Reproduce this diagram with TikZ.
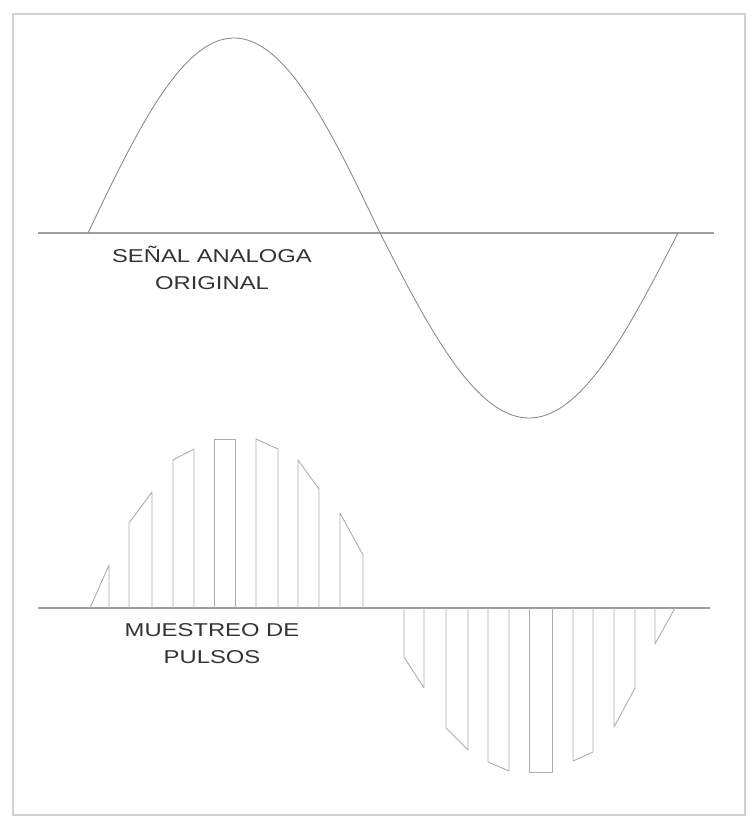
\documentclass[tikz,border=0pt]{standalone}
\usepackage{fontspec}
\newfontfamily\lblfont[FakeStretch=1.28]{Liberation Sans}
\usetikzlibrary{positioning}
\definecolor{figframe}{gray}{0.82}
\definecolor{figaxis}{gray}{0.62}
\definecolor{figwave}{gray}{0.55}
\definecolor{figpulse}{gray}{0.68}
\tikzset{
  fig/.style={x=0.5pt,y=-0.5pt},
  frameln/.style={draw=figframe,line width=0.6pt},
  axisln/.style={draw=figaxis,line width=0.55pt},
  waveln/.style={draw=figwave,line width=0.45pt},
  pulseln/.style={draw=figpulse,line width=0.45pt,line join=round},
  lbl/.style={font=\lblfont\fontsize{9.3}{13.5}\selectfont,text=black!80,
              align=center,inner sep=0pt},
}

\begin{document}
\begin{tikzpicture}[fig]

\useasboundingbox (0,0) rectangle (752,819);
\draw[frameln] (13,14) rectangle (745,815);

\draw[axisln] (38,233) -- (714,233);
\draw[waveln] plot[domain=0:292,samples=80] ({88+\x},{233-195*sin(\x/292*180)})
      -- plot[domain=0:298,samples=80] ({380+\x},{233+185*sin(\x/298*180)});
\node[lbl] (orig) at (212,268) {SEÑAL ANALOGA\\ORIGINAL};

\draw[axisln] (38,608) -- (710,608);
\draw[pulseln] (90,608) -- (109,565) -- (109,608);
\foreach \xl/\xr/\yl/\yr in {129/152/523/492,173/194/460/449,214/235/439/439,
                             256/278/439/449,298/319/460/489,340/363/513/555,
                             404/424/657/688,446/468/728/750,488/509/762/771,
                             529/552/772/772,573/593/761/752,614/635/727/688}
  \draw[pulseln] (\xl,608) -- (\xl,\yl) -- (\xr,\yr) -- (\xr,608);
\draw[pulseln] (655,608) -- (655,644) -- (675,608);
\node[lbl] (samp) at (212,644) {MUESTREO DE\\PULSOS};

\end{tikzpicture}
\end{document}
